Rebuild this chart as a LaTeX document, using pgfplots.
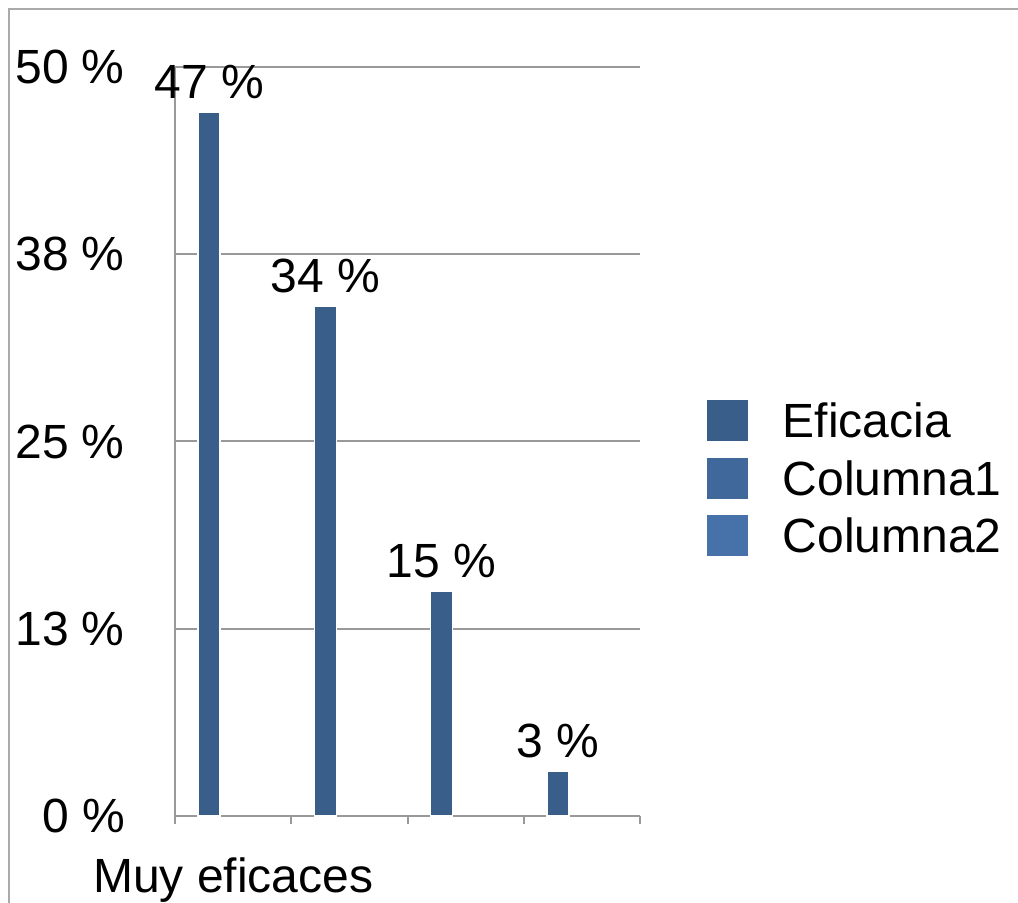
\documentclass[border=0pt]{standalone}
\usepackage{pgfplots}
\pgfplotsset{compat=1.18}
\usepackage{fontspec}
\setmainfont{Liberation Sans}
\definecolor{cA}{HTML}{3A5E8A}
\definecolor{cB}{HTML}{41689B}
\definecolor{cC}{HTML}{4672A9}
\definecolor{gridc}{HTML}{999999}
\definecolor{framec}{HTML}{AAAAAA}
\newcommand\bigf{\fontsize{36}{43}\selectfont}
\begin{document}
\begin{tikzpicture}[font=\bigf]
\useasboundingbox (0,0) rectangle (763.5pt,677.25pt);
\draw[framec, line width=1.2pt] (6.75pt,0) -- (6.75pt,670.5pt) -- (763.5pt,670.5pt);
\begin{axis}[
  at={(131.25pt,65.25pt)}, anchor=south west,
  scale only axis, width=348.75pt, height=561.75pt,
  xmin=0, xmax=4, ymin=0, ymax=50,
  axis x line=bottom, axis y line=left,
  axis line style={-, draw=gridc, line width=1.5pt},
  clip=false,
  ybar,
  ytick={0,12.5,25,37.5,50},
  yticklabels={0 \%,13 \%,25 \%,38 \%,50 \%},
  ymajorgrids, grid style={draw=gridc, line width=1.5pt},
  y tick style={draw=none},
  yticklabel style={font=\bigf, anchor=east, inner sep=0pt, xshift=-31.5pt},
  xtick={0,1,2,3,4}, xticklabels={},
  x tick style={draw=gridc, line width=1.5pt},
  tick align=outside, major tick length=6pt,
  extra x ticks={0.5}, extra x tick labels={Muy eficaces},
  extra x tick style={major tick length=0pt, tick style={draw=none},
     xticklabel style={font=\bigf, anchor=north, inner sep=0pt, yshift=-31pt}},
  legend image code/.code={\fill[#1,draw=none] (0pt,-2.4pt) rectangle (30.75pt,28.35pt);},
  legend style={draw=none, fill=none, inner sep=0pt, outer sep=0pt,
     at={(axis description cs:1.1441,0.5554)}, anchor=north west,
     column sep=26pt, row sep=12.4pt, font=\bigf,
     nodes={inner sep=0pt, anchor=base west}},
  legend cell align=left,
  /pgf/number format/assume math mode=true,
]
\addplot[fill=cA, draw=white, line width=1pt, bar width=16.5pt, bar shift=-18pt,
  nodes near coords={\pgfmathprintnumber{\pgfplotspointmeta}~\%},
  every node near coord/.append style={font=\bigf, text=black, anchor=south, inner sep=0pt, yshift=9.5pt}]
  coordinates {(0.5,47) (1.5,34) (2.5,15) (3.5,3)};
\addlegendentry{Eficacia}
\addlegendimage{fill=cB}
\addlegendentry{Columna1}
\addlegendimage{fill=cC}
\addlegendentry{Columna2}
\end{axis}
\end{tikzpicture}
\end{document}
